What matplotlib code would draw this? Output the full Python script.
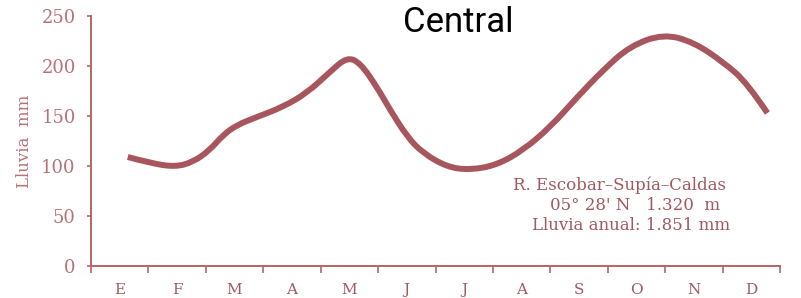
import numpy as np
import matplotlib.pyplot as plt
from matplotlib.path import Path
from matplotlib.patches import PathPatch

# months (labels sit in the middle of each month slot)
months = ["E", "F", "M", "A", "M", "J", "J", "A", "S", "O", "N", "D"]

# rainfall curve (position in months, mm)
curve_x = [0.64, 1.03, 1.46, 1.78, 2.07, 2.30, 2.54, 2.89, 3.34, 3.76, 4.16, 4.46,
           4.69, 4.98, 5.21, 5.51, 5.78, 6.20, 6.60, 7.07, 7.53, 8.00, 8.47, 8.92,
           9.39, 9.97, 10.49, 11.01, 11.43, 11.78]
curve_mm = [109, 103, 99, 104, 116, 131, 141, 149, 159, 173, 194, 209,
            203, 179, 156, 129, 113, 99, 96, 101, 116, 139, 169, 196,
            220, 232, 224, 204, 183, 153]

station = ["R. Escobar\u2013Sup\u00eda\u2013Caldas",
           "05\u00b0 28' N   1.320  m",
           "Lluvia anual: 1.851 mm"]

line_col = "#a8565e"
axis_col = "#b4646a"

fig = plt.figure(figsize=(8.01, 2.98), dpi=100)
ax = fig.add_axes([91 / 801, 32 / 298, 689 / 801, 250 / 298])

# smooth stroke: read points are used as quadratic bezier control points
pts = np.column_stack([curve_x, curve_mm]).astype(float)
verts = [pts[0]]
codes = [Path.MOVETO]
for i in range(1, len(pts) - 1):
    end = pts[i + 1] if i == len(pts) - 2 else (pts[i] + pts[i + 1]) / 2
    verts += [pts[i], end]
    codes += [Path.CURVE3, Path.CURVE3]
ax.add_patch(PathPatch(Path(verts, codes), fill=False, edgecolor=line_col,
                       lw=4.3, capstyle="butt", joinstyle="round"))

ax.set_xlim(0, 12)
ax.set_ylim(0, 250)

for s in ["top", "right"]:
    ax.spines[s].set_visible(False)
for s in ["left", "bottom"]:
    ax.spines[s].set_color(axis_col)
    ax.spines[s].set_linewidth(1.4)

ax.set_yticks([0, 50, 100, 150, 200, 250])
ax.tick_params(axis="y", colors=axis_col, length=3, width=1.2, pad=8,
               labelsize=13)
for lab in ax.get_yticklabels():
    lab.set_family("DejaVu Serif")
    lab.set_color("#b87278")

ax.set_xticks(np.arange(0, 13))
ax.set_xticklabels([])
ax.tick_params(axis="x", which="major", colors=axis_col, length=5, width=1.2)
ax.set_xticks(np.arange(12) + 0.5, minor=True)
ax.set_xticklabels(months, minor=True, family="DejaVu Serif", fontsize=11,
                   color="#9e5a5e")
ax.tick_params(axis="x", which="minor", length=0, pad=12)

ax.set_ylabel("Lluvia  mm", family="DejaVu Serif", fontsize=12,
              color="#b87278", labelpad=6)

ax.text(9.2, 81, station[0], ha="center", va="center", family="DejaVu Serif",
        fontsize=12, color="#a0585e")
ax.text(9.48, 61, station[1], ha="center", va="center", family="DejaVu Serif",
        fontsize=12, color="#a0585e")
ax.text(9.41, 41, station[2], ha="center", va="center", family="DejaVu Serif",
        fontsize=12, color="#a0585e")

fig.text(458 / 801, 1 - 23 / 298, "Central", ha="center", va="center",
         family="Roboto", fontsize=25, color="black")

fig.savefig("out.png", dpi=100)
